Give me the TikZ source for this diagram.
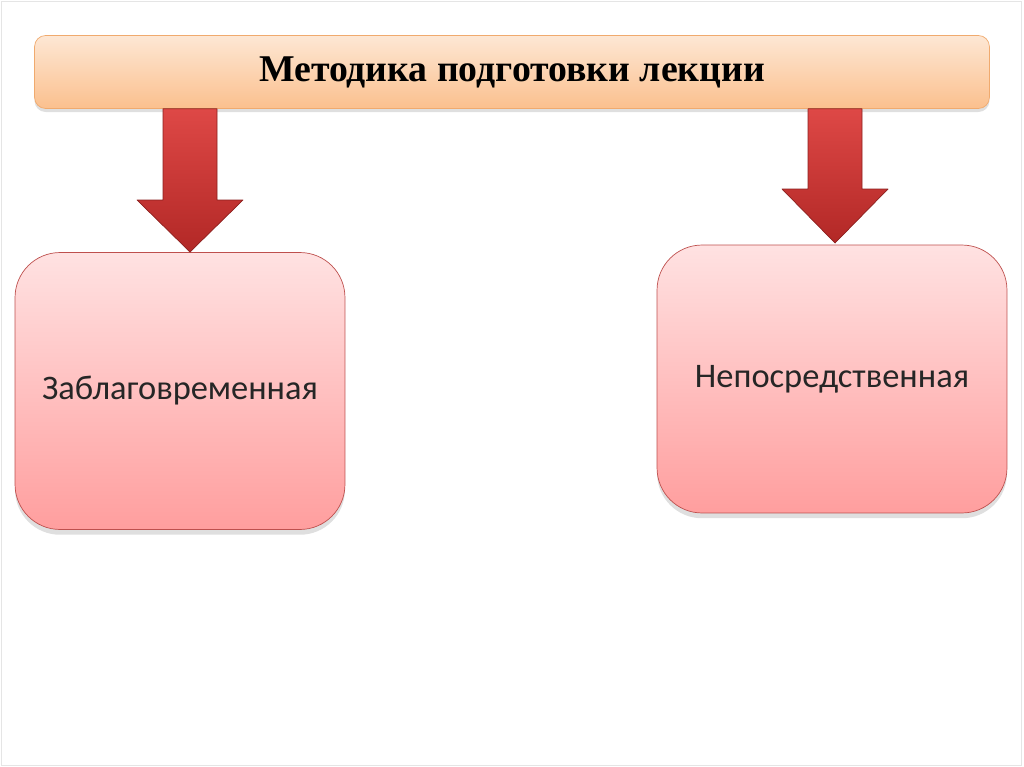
\documentclass[tikz,border=0pt]{standalone}
\usepackage{fontspec}
\setmainfont{Liberation Serif}
\newfontfamily\boxfont{Carlito}
\usetikzlibrary{calc,shadows}
\definecolor{barline}{RGB}{240,170,110}
\definecolor{bartop}{RGB}{253,231,212}
\definecolor{barbot}{RGB}{251,192,142}
\definecolor{boxline}{RGB}{190,80,78}
\definecolor{boxtop}{RGB}{255,226,226}
\definecolor{boxbot}{RGB}{255,158,158}
\definecolor{arrowtop}{RGB}{222,72,70}
\definecolor{arrowbot}{RGB}{178,40,38}
\definecolor{arrowline}{RGB}{140,32,30}
\tikzset{
 bar/.style={draw=barline, top color=bartop, bottom color=barbot, rounded corners=0.22cm,
  minimum width=19.1cm, minimum height=1.46cm, font=\bfseries\fontsize{21.5}{26}\selectfont,
  drop shadow={shadow xshift=0pt, shadow yshift=-2pt, opacity=0.25}},
 card/.style={draw=boxline, top color=boxtop, bottom color=boxbot, rounded corners=0.9cm,
  font=\boxfont\fontsize{19.6}{24}\selectfont, text=black!85,
  drop shadow={shadow xshift=0pt, shadow yshift=-3pt, opacity=0.25}},
 blockarrow/.style={draw=arrowline, top color=arrowtop, bottom color=arrowbot, line join=round}
}
\begin{document}
\begin{tikzpicture}[x=0.02cm, y=-0.02cm]
 \useasboundingbox (0,0) rectangle (1024,767);
 \draw[black!10] (1,1) rectangle (1021,765);
 \node[bar] (title) at (512,72) {Методика подготовки лекции};
 \node[card, minimum width=6.6cm, minimum height=5.54cm] (early) at (180,391) {Заблаговременная};
 \node[card, minimum width=7cm, minimum height=5.36cm] (direct) at (832,379) {Непосредственная};
 \coordinate (tipA) at (190,252);
 \coordinate (tipB) at (835,243);
 % block arrows from the bar down to the cards
 \foreach \tip/\len in {tipA/52, tipB/54}
  \draw[blockarrow] ($(\tip |- title.south)+(-27,0)$) -- ($(\tip |- title.south)+(27,0)$)
   -- ($(\tip)+(27,-\len)$) -- ($(\tip)+(53,-\len)$) -- (\tip)
   -- ($(\tip)+(-53,-\len)$) -- ($(\tip)+(-27,-\len)$) -- cycle;
\end{tikzpicture}
\end{document}
